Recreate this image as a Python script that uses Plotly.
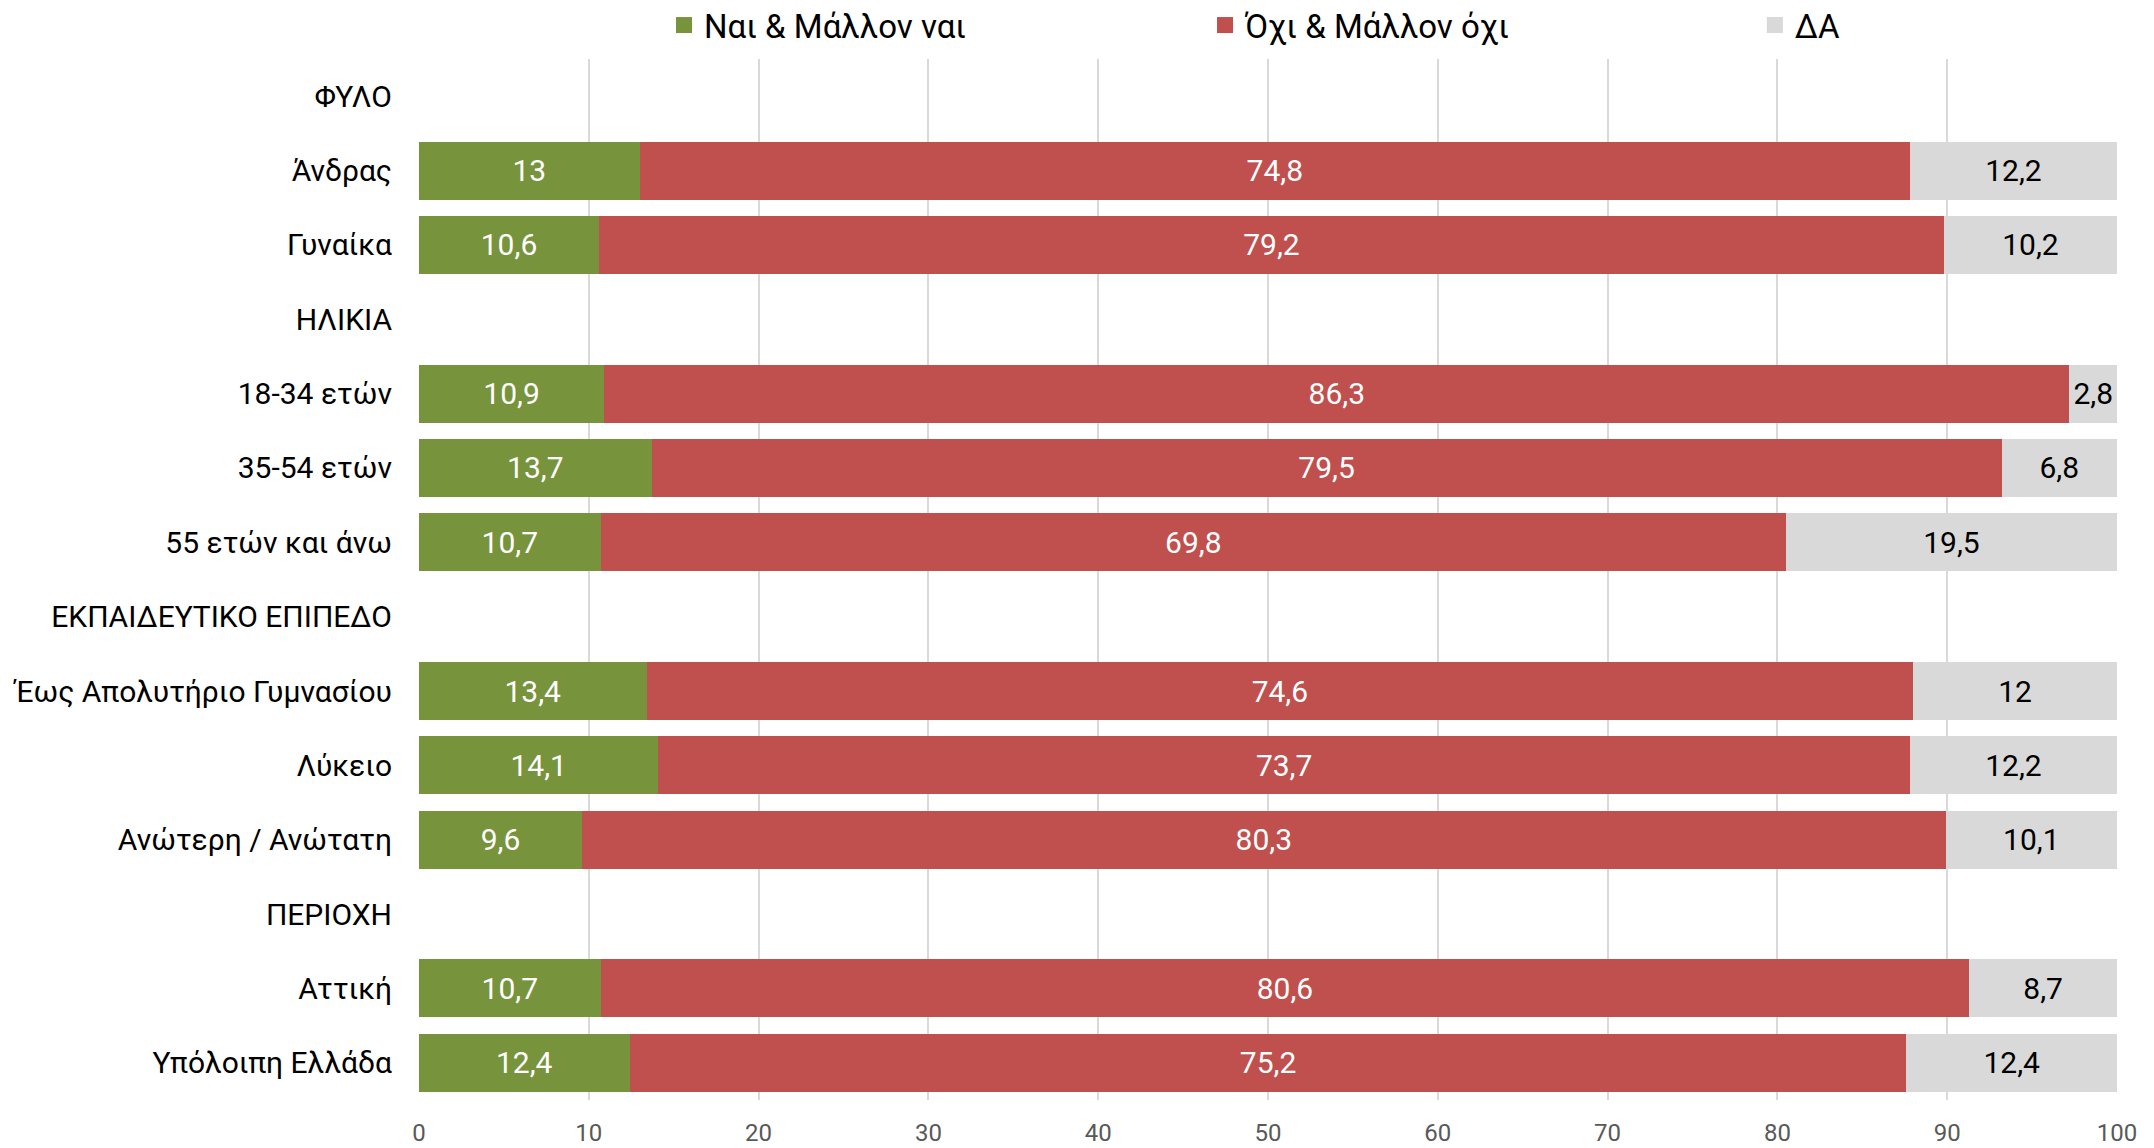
import plotly.graph_objects as go

categories = [
    'ΦΥΛΟ', 'Άνδρας', 'Γυναίκα',
    'ΗΛΙΚΙΑ', '18-34 ετών', '35-54 ετών', '55 ετών και άνω',
    'ΕΚΠΑΙΔΕΥΤΙΚΟ ΕΠΙΠΕΔΟ', 'Έως Απολυτήριο Γυμνασίου', 'Λύκειο', 'Ανώτερη / Ανώτατη',
    'ΠΕΡΙΟΧΗ', 'Αττική', 'Υπόλοιπη Ελλάδα'
]

yes_vals = [None, 13, 10.6, None, 10.9, 13.7, 10.7, None, 13.4, 14.1, 9.6, None, 10.7, 12.4]
no_vals = [None, 74.8, 79.2, None, 86.3, 79.5, 69.8, None, 74.6, 73.7, 80.3, None, 80.6, 75.2]
dk_vals = [None, 12.2, 10.2, None, 2.8, 6.8, 19.5, None, 12, 12.2, 10.1, None, 8.7, 12.4]

series_names = ['Ναι & Μάλλον ναι', 'Όχι & Μάλλον όχι', 'ΔΑ']
x_ticks = [0, 10, 20, 30, 40, 50, 60, 70, 80, 90, 100]

FONT = 'Roboto, "Open Sans", sans-serif'


def fmt(v):
    # greek style decimal comma
    return '' if v is None else f'{v:g}'.replace('.', ',')


fig = go.Figure()

series = [
    (yes_vals, series_names[0], '#77933C', 'white', 'legend'),
    (no_vals, series_names[1], '#C0504D', 'white', 'legend2'),
    (dk_vals, series_names[2], '#D9D9D9', 'black', 'legend3'),
]

for vals, name, color, txtcolor, leg in series:
    fig.add_trace(go.Bar(
        y=categories,
        x=vals,
        orientation='h',
        name=name,
        showlegend=False,
        marker=dict(color=color, line=dict(width=0)),
        text=[fmt(v) for v in vals],
        textposition='inside',
        insidetextanchor='middle',
        textangle=0,
        textfont=dict(family=FONT, size=30, color=txtcolor),
        hoverinfo='skip',
    ))
    # legend entry with a bigger square than the bar legend symbol
    fig.add_trace(go.Scatter(
        x=[None], y=[None],
        mode='markers',
        name=name,
        marker=dict(symbol='square', size=16, color=color),
        legend=leg,
        showlegend=True,
        hoverinfo='skip',
    ))

# one legend per series so each can sit where Excel put it
legend_style = dict(
    orientation='h',
    xref='container',
    yref='container',
    yanchor='middle',
    y=0.985,
    xanchor='left',
    itemsizing='trace',
    font=dict(family=FONT, size=33, color='black'),
    bgcolor='rgba(0,0,0,0)',
)

# page body has an 8px margin, so the figure is a bit smaller than the window
fig.update_layout(
    barmode='stack',
    bargap=0.22,
    width=2146,
    height=1140,
    margin=dict(l=411, r=37, t=51, b=48, autoexpand=False),
    paper_bgcolor='white',
    plot_bgcolor='white',
    font=dict(family=FONT),
    showlegend=True,
    uniformtext=dict(minsize=30, mode='show'),
    legend=dict(x=0.3057, **legend_style),
    legend2=dict(x=0.5578, **legend_style),
    legend3=dict(x=0.814, **legend_style),
    xaxis=dict(
        range=[0, 100],
        tickvals=x_ticks,
        ticktext=[str(t) for t in x_ticks],
        showgrid=True,
        gridcolor='#D9D9D9',
        gridwidth=1.5,
        zeroline=False,
        showline=False,
        tickfont=dict(family=FONT, size=24, color='#595959'),
        ticklabelstandoff=16,
    ),
    yaxis=dict(
        categoryorder='array',
        categoryarray=categories,
        autorange='reversed',
        showgrid=False,
        zeroline=False,
        showline=False,
        automargin=False,
        tickfont=dict(family=FONT, size=30, color='black'),
        ticklabelstandoff=26,
    ),
)

fig.write_html("out.html")
